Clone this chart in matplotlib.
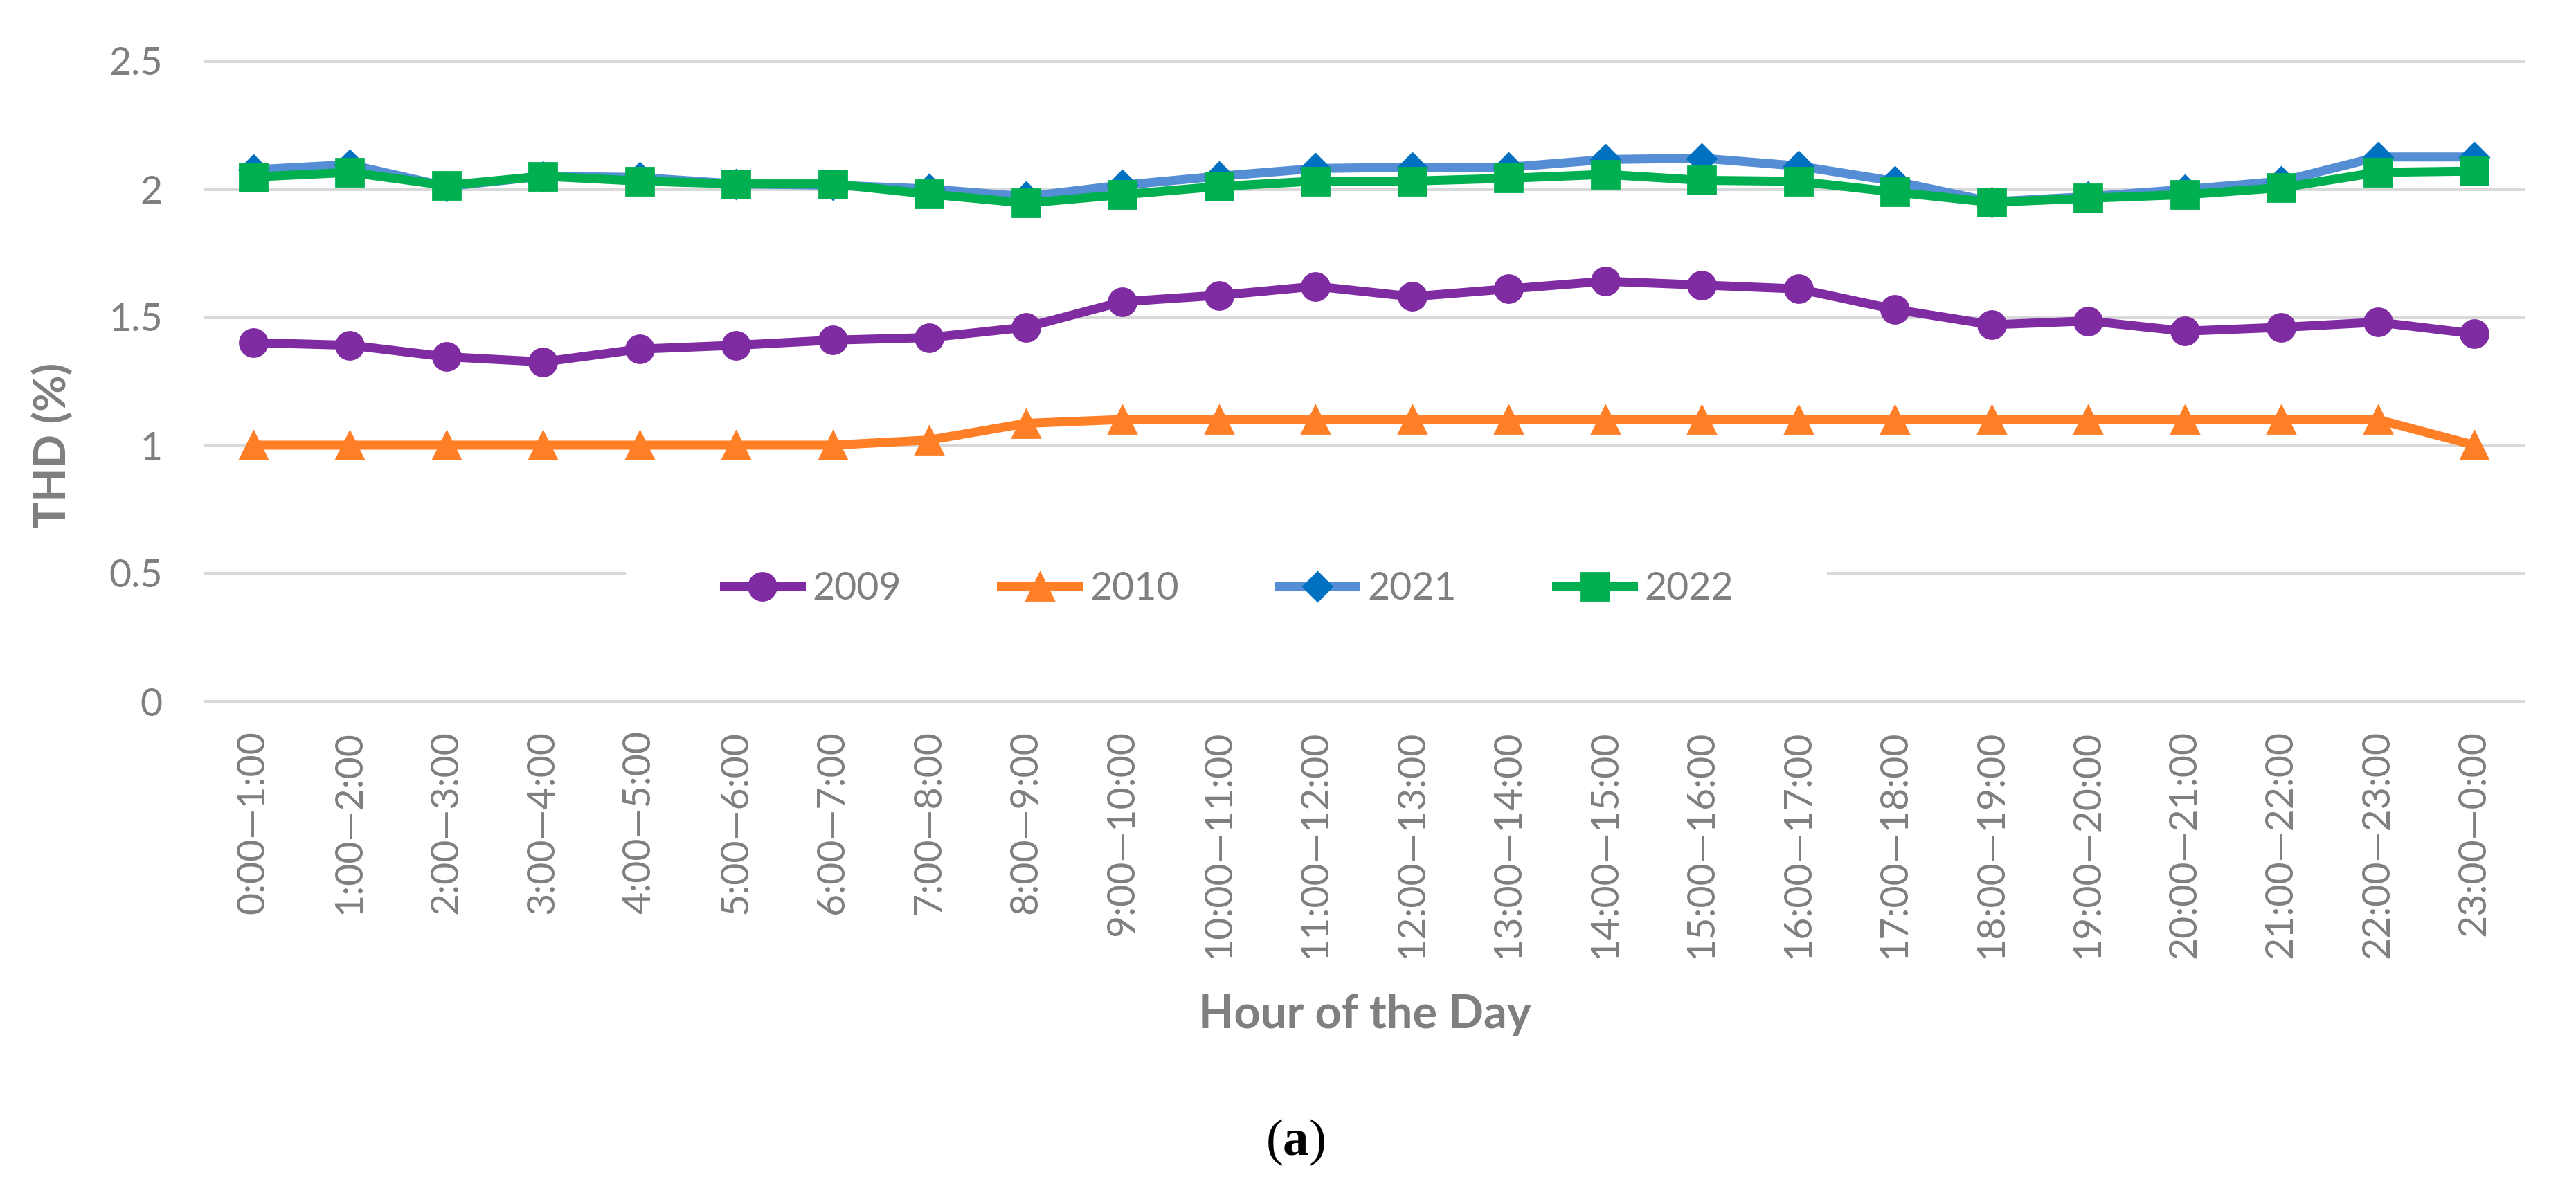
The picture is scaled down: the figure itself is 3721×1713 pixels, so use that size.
import matplotlib
matplotlib.use("Agg")
import matplotlib.pyplot as plt
from matplotlib.patches import Rectangle
import matplotlib.transforms as mtransforms

hours = ['0:00—1:00', '1:00—2:00', '2:00—3:00', '3:00—4:00', '4:00—5:00', '5:00—6:00',
         '6:00—7:00', '7:00—8:00', '8:00—9:00', '9:00—10:00', '10:00—11:00', '11:00—12:00',
         '12:00—13:00', '13:00—14:00', '14:00—15:00', '15:00—16:00', '16:00—17:00',
         '17:00—18:00', '18:00—19:00', '19:00—20:00', '20:00—21:00', '21:00—22:00',
         '22:00—23:00', '23:00—0:00']

thd_2009 = [1.40, 1.39, 1.345, 1.325, 1.375, 1.39, 1.41, 1.42, 1.46, 1.56, 1.585, 1.62,
            1.58, 1.61, 1.64, 1.625, 1.61, 1.53, 1.47, 1.485, 1.445, 1.46, 1.48, 1.435]
thd_2010 = [1.0, 1.0, 1.0, 1.0, 1.0, 1.0, 1.0, 1.02, 1.085, 1.1, 1.1, 1.1,
            1.1, 1.1, 1.1, 1.1, 1.1, 1.1, 1.1, 1.1, 1.1, 1.1, 1.1, 1.0]
thd_2021 = [2.075, 2.095, 2.01, 2.05, 2.045, 2.02, 2.015, 2.0, 1.97, 2.015, 2.05, 2.08,
            2.085, 2.085, 2.115, 2.12, 2.09, 2.03, 1.95, 1.97, 1.998, 2.03, 2.125, 2.125]
thd_2022 = [2.047, 2.065, 2.014, 2.05, 2.031, 2.02, 2.02, 1.98, 1.945, 1.978, 2.01, 2.031,
            2.031, 2.042, 2.057, 2.034, 2.03, 1.988, 1.948, 1.964, 1.978, 2.005, 2.065, 2.07]

grey = '#7F7F7F'
plt.rcParams['font.family'] = ['Lato', 'DejaVu Sans']
plt.rcParams['mathtext.fontset'] = 'custom'
plt.rcParams['mathtext.bf'] = 'Liberation Serif:bold'
plt.rcParams['mathtext.rm'] = 'Liberation Serif'

W, H = 3721, 1713
fig = plt.figure(figsize=(W / 200, H / 200), dpi=200)
ax = fig.add_axes([296 / W, (H - 1013) / H, 3348 / W, 925 / H])

x = list(range(len(hours)))
lw = 4.7
ax.plot(x, thd_2009, color='#7F2CA2', lw=lw, marker='o', ms=14.4, label='2009', zorder=3)
ax.plot(x, thd_2010, color='#FF7F27', lw=lw, marker='^', ms=14.4, label='2010', zorder=4)
ax.plot(x, thd_2021, color='#558ED5', lw=lw, marker='D', ms=10.5,
        markerfacecolor='#0070C0', markeredgecolor='#0070C0', label='2021', zorder=5)
ax.plot(x, thd_2022, color='#00B050', lw=lw, marker='s', ms=14.4, label='2022', zorder=6)

ax.set_xlim(-0.5, len(hours) - 0.5)
ax.set_ylim(0, 2.5)
ax.set_yticks([0, 0.5, 1, 1.5, 2, 2.5])
ax.set_yticklabels(['0', '0.5', '1', '1.5', '2', '2.5'])
ax.set_xticks(x)
ax.set_xticklabels(hours, rotation=90)

ax.tick_params(axis='y', length=0, pad=22, labelsize=20, colors=grey)
ax.tick_params(axis='x', length=0, pad=15, labelsize=20, colors=grey)
for s in ax.spines.values():
    s.set_visible(False)

ax.set_axisbelow(True)
ax.grid(axis='y', color='#D9D9D9', lw=1.8)
for g in ax.get_ygridlines():
    g.set_clip_on(False)

# hueco blanco del fondo de la leyenda sobre la linea de 0.5
trans = mtransforms.blended_transform_factory(ax.transAxes, ax.transData)
ax.add_patch(Rectangle(((904 - 296) / 3348, 0.44), (2639 - 904) / 3348, 0.12,
                       transform=trans, facecolor='white', edgecolor='none', zorder=1))

leg = ax.legend(loc='center', bbox_to_anchor=((1775 - 296) / 3348, (1013 - 851) / 925),
                ncol=4, frameon=False, fontsize=20, handlelength=2.0, handletextpad=0.3,
                columnspacing=2.6, borderpad=0.2)
for t in leg.get_texts():
    t.set_color(grey)

fig.text(75 / W, (H - 643) / H, 'THD (%)', rotation=90, ha='center', va='center',
         fontsize=23, fontweight='bold', color=grey)
fig.text(1971 / W, (H - 1466) / H, 'Hour of the Day', ha='center', va='center',
         fontsize=24, fontweight='bold', color=grey)
fig.text(1871 / W, (H - 1650) / H, r'($\mathbf{a}$)', ha='center', va='center',
         fontsize=27, color='black', family='Liberation Serif')

fig.savefig('out.png', dpi=200, facecolor='white')
